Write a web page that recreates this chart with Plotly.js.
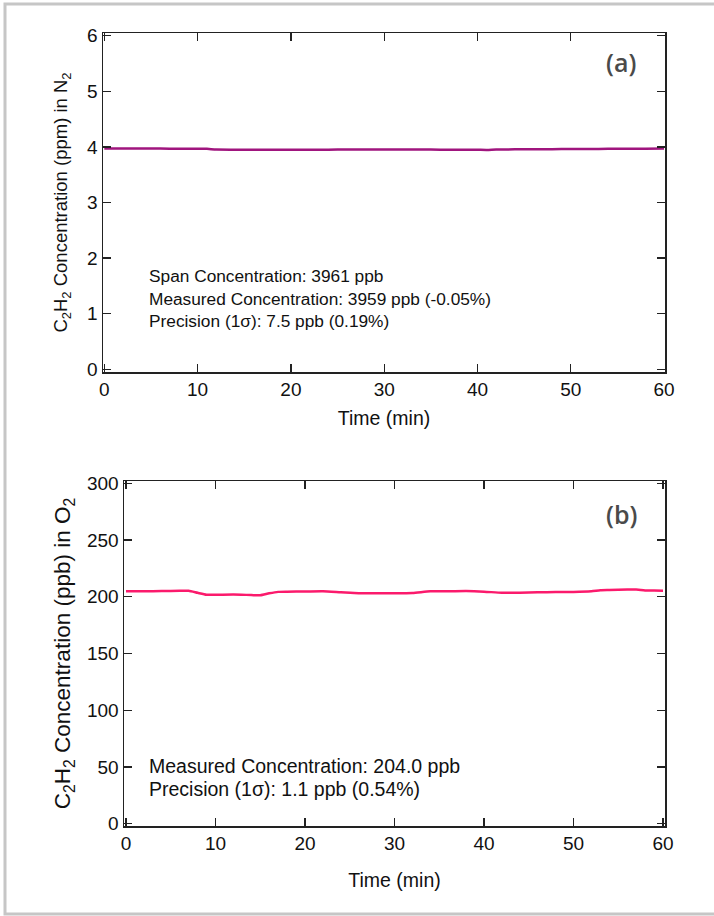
<!DOCTYPE html>
<html>
<head>
<meta charset="utf-8">
<script src="https://cdn.plot.ly/plotly-3.0.1.min.js"></script>
<style>
html,body{margin:0;padding:0;background:#fff;}
#chart{width:714px;height:916px;}
</style>
</head>
<body>
<div id="chart"></div>
<script>
// Panel (a): C2H2 span in N2 (ppm)
const timeA = [0,2,4,6,8,10,11,12,14,16,18,20,22,24,26,28,30,32,34,36,38,40,41,42,44,46,48,50,52,54,56,58,60];
const concA = [3.97,3.97,3.97,3.97,3.968,3.968,3.966,3.952,3.95,3.948,3.948,3.95,3.95,3.951,3.952,3.952,3.953,3.952,3.952,3.951,3.951,3.948,3.946,3.952,3.956,3.958,3.96,3.962,3.963,3.965,3.966,3.968,3.97];
// Panel (b): C2H2 in O2 (ppb)
const timeB = [0,2,4,6,7,8,9,10,12,14,15,16,17,18,20,22,24,26,28,30,32,34,36,38,40,42,44,46,48,50,52,53,54,56,57,58,59,60];
const concB = [204.8,204.9,205,205.3,205.3,203.5,201.8,201.7,202,201.5,201.3,203,204.3,204.5,204.6,204.8,204,203.2,203,203.1,203.4,204.8,204.8,205,204.5,203.5,203.6,204,204.1,204.2,204.8,205.7,205.9,206.3,206.3,205.6,205.5,205.2];
const xTicks = [0,10,20,30,40,50,60];
const yTicksA = [0,1,2,3,4,5,6];
const yTicksB = [0,50,100,150,200,250,300];
const textA = ["Span Concentration: 3961 ppb","Measured Concentration: 3959 ppb (-0.05%)","Precision (1\u03c3): 7.5 ppb (0.19%)"];
const textB = ["Measured Concentration: 204.0 ppb","Precision (1\u03c3): 1.1 ppb (0.54%)"];

const W = 714, H = 916;
const px = v => v / W;
const py = v => 1 - v / H;
const FONT = "Liberation Sans, Arial, sans-serif";

function axisBase(extra){
  return Object.assign({
    showline:true, linecolor:'#222', linewidth:1.5, mirror:'ticks',
    ticks:'inside', ticklen:8, tickwidth:1.3, tickcolor:'#222',
    showgrid:false, zeroline:false,
    tickfont:{family:FONT, size:19, color:'#111'},
    fixedrange:true
  }, extra);
}

const traces = [
  {x:timeA, y:concA, xaxis:'x', yaxis:'y', mode:'lines', line:{color:'#a0157e', width:2.5, shape:'spline', smoothing:0.6}, hoverinfo:'skip'},
  {x:timeB, y:concB, xaxis:'x2', yaxis:'y2', mode:'lines', line:{color:'#fb1a6c', width:2.5, shape:'spline', smoothing:0.6}, hoverinfo:'skip'}
];

const ann = [];
textA.forEach((t,i)=>ann.push({xref:'paper', yref:'paper', x:px(147), y:py(276+i*22.5), xanchor:'left', yanchor:'middle', showarrow:false, text:t, font:{family:FONT, size:17.3, color:'#111'}}));
textB.forEach((t,i)=>ann.push({xref:'paper', yref:'paper', x:px(147), y:py(766+i*22.5), xanchor:'left', yanchor:'middle', showarrow:false, text:t, font:{family:FONT, size:19.5, color:'#111'}}));
ann.push({xref:'paper', yref:'paper', x:px(621), y:py(62), xanchor:'center', yanchor:'middle', showarrow:false, text:'(a)', font:{family:'Open Sans, Noto Sans, sans-serif', size:25, weight:600, color:'#4a4a4a'}});
ann.push({xref:'paper', yref:'paper', x:px(621), y:py(514), xanchor:'center', yanchor:'middle', showarrow:false, text:'(b)', font:{family:'Open Sans, Noto Sans, sans-serif', size:25, weight:600, color:'#4a4a4a'}});

const layout = {
  width:W, height:H,
  margin:{l:0, r:0, t:0, b:0},
  paper_bgcolor:'#fff', plot_bgcolor:'#fff',
  showlegend:false,
  xaxis: axisBase({domain:[px(103), px(665)], range:[-0.14, 60.1], tickvals:xTicks, anchor:'y',
    title:{text:'Time (min)', font:{family:FONT, size:19.5, color:'#111'}, standoff:12}}),
  yaxis: axisBase({domain:[py(372), py(33)], range:[-0.05, 6.05], tickvals:yTicksA, anchor:'x',
    title:{text:'C<sub>2</sub>H<sub>2</sub> Concentration (ppm) in N<sub>2</sub>', font:{family:FONT, size:18.5, color:'#111'}, standoff:14}}),
  xaxis2: axisBase({domain:[px(124), px(665)], range:[-0.22, 60.22], tickvals:xTicks, anchor:'y2',
    title:{text:'Time (min)', font:{family:FONT, size:19.5, color:'#111'}, standoff:20}}),
  yaxis2: axisBase({domain:[py(826), py(481)], range:[-2, 302], tickvals:yTicksB, anchor:'x2',
    title:{text:'C<sub>2</sub>H<sub>2</sub> Concentration (ppb) in O<sub>2</sub>', font:{family:FONT, size:22.5, color:'#111'}, standoff:10}}),
  annotations: ann,
  shapes:[
    {type:'rect', xref:'paper', yref:'paper', x0:px(5), x1:px(730), y0:py(914), y1:py(4), line:{color:'#c6c6c6', width:3}, fillcolor:'rgba(0,0,0,0)', layer:'below'}
  ]
};

Plotly.newPlot('chart', traces, layout, {staticPlot:true, displayModeBar:false});
</script>
</body>
</html>
